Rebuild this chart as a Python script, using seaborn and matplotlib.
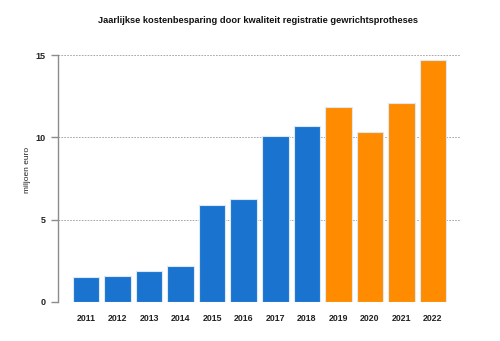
import matplotlib
matplotlib.use("Agg")
import matplotlib.pyplot as plt
import seaborn as sns
import pandas as pd

years = ["2011", "2012", "2013", "2014", "2015", "2016",
         "2017", "2018", "2019", "2020", "2021", "2022"]
savings = [1.5, 1.55, 1.9, 2.2, 5.9, 6.23, 10.08, 10.7, 11.82, 10.34, 12.1, 14.69]
period = ["realised"] * 8 + ["projected"] * 4
palette = {"realised": "#1a74cf", "projected": "#ff8c00"}

df = pd.DataFrame({"jaar": years, "besparing": savings, "periode": period})

sns.set_theme(style="white")
plt.rcParams["font.family"] = ["Liberation Sans", "DejaVu Sans"]

fig = plt.figure(figsize=(5.0, 3.41), dpi=100)
ax = fig.add_axes([0.116, 0.1144, 0.806, 0.7243])

sns.barplot(data=df, x="jaar", y="besparing", hue="periode", palette=palette,
            dodge=False, width=0.84, legend=False, ax=ax,
            edgecolor="#dce9f5", linewidth=0.8, saturation=1)

ax.set_xlim(-0.89, 11.89)
ax.set_ylim(0, 15)
ax.set_yticks([0, 5, 10, 15])
ax.set_yticklabels(["0", "5", "10", "15"])
ax.yaxis.grid(True, linestyle=(0, (2, 1.5)), color="#9a9a9a", linewidth=0.6)
ax.set_axisbelow(True)

for s in ["top", "right", "bottom"]:
    ax.spines[s].set_visible(False)
ax.spines["left"].set_color("#8c8c8c")
ax.spines["left"].set_linewidth(1.0)

ax.tick_params(axis="y", length=5, width=1.0, color="#8c8c8c", pad=4,
               labelsize=6.5, left=True)
ax.tick_params(axis="x", length=0, pad=9, labelsize=6.3)
for lab in ax.get_xticklabels() + ax.get_yticklabels():
    lab.set_fontweight("bold")
    lab.set_color("#222222")

ax.set_xlabel("")
ax.set_ylabel("miljoen euro", fontsize=6, color="#222222")
ax.yaxis.set_label_coords(-0.067, 0.535)

fig.text(0.515, 0.941, "Jaarlijkse kostenbesparing door kwaliteit registratie gewrichtsprotheses",
         ha="center", va="center", fontsize=6.7, fontweight="bold", color="#111111")

fig.savefig("out.png", dpi=100)
